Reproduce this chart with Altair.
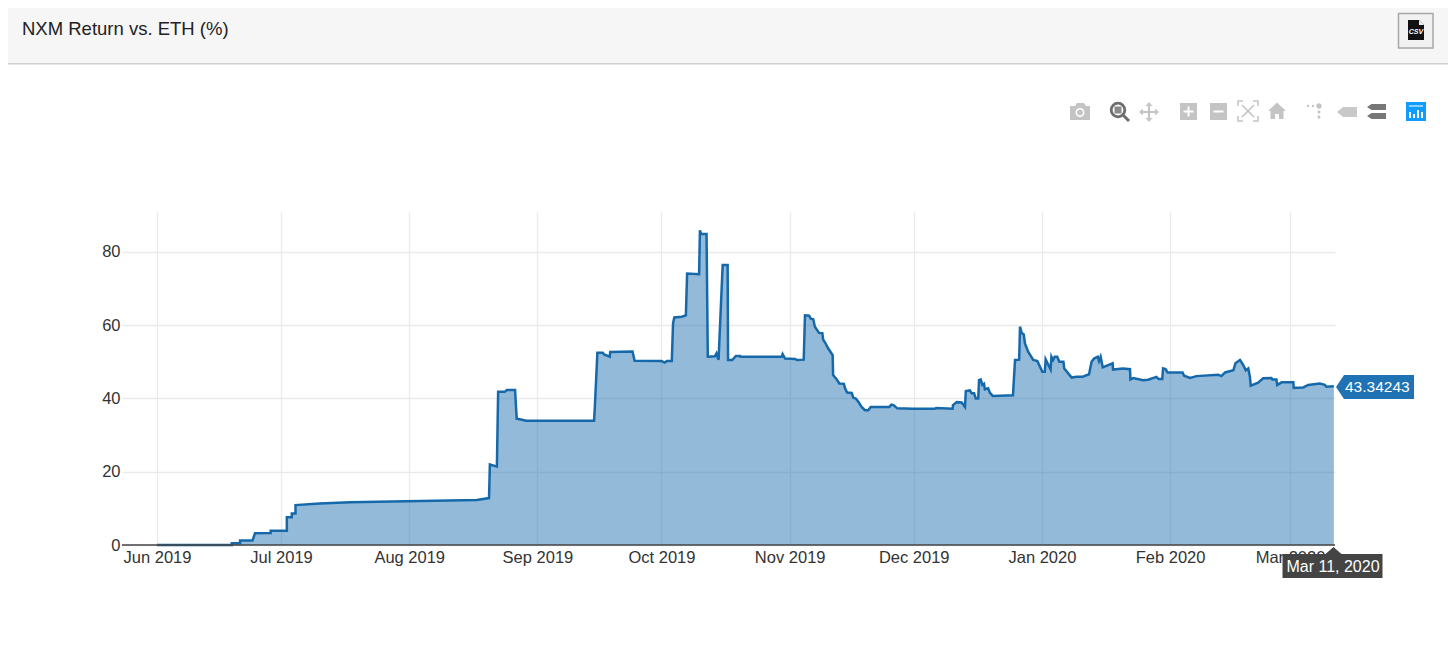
import altair as alt
import pandas as pd

# Days after 1 June 2019, and NXM return vs. ETH (%)
days = [0, 18.1, 18.1, 20.1, 20.1, 23.1, 23.7, 27.5, 27.5, 31.4, 31.4, 32.6, 32.6, 33.5, 33.5, 39.4, 46.7, 77.3, 80.3,
        80.5, 82.2, 82.5, 84.1, 84.6, 86.6, 86.8, 87.0, 88.3, 89.2, 105.7, 105.9, 106.5, 107.8, 108.1, 109.5, 109.6,
        115.0, 115.5, 122.0, 122.8, 123.3, 124.5, 124.8, 125.1, 126.9, 127.9, 128.2, 131.1, 131.3, 131.6, 132.9, 133.2,
        134.9, 135.3, 135.8, 136.8, 138.0, 138.1, 139.1, 140.0, 141.0, 141.1, 151.1, 151.3, 151.9, 154.3, 154.8, 156.4,
        156.7, 157.7, 158.1, 158.7, 159.1, 160.1, 160.9, 161.1, 161.7, 162.3, 163.4, 163.5, 164.4, 165.0, 166.1, 166.4,
        166.9, 168.0, 168.4, 169.0, 169.6, 170.4, 171.2, 172.0, 172.6, 177.1, 177.6, 178.2, 179.0, 182.8, 188.1, 188.4,
        192.4, 192.5, 193.4, 194.6, 195.4, 195.6, 196.6, 197.0, 197.6, 198.0, 198.6, 198.8, 199.2, 199.6, 200.0, 200.2,
        201.0, 201.4, 202.1, 207.0, 207.5, 208.5, 208.7, 209.1, 209.6, 209.9, 210.7, 211.9, 212.9, 214.1, 214.7, 214.9,
        216.1, 216.3, 216.7, 217.1, 217.7, 218.2, 219.2, 219.4, 221.2, 222.4, 223.8, 225.4, 226.0, 226.6, 227.5, 227.8,
        228.2, 228.7, 231.1, 231.2, 233.6, 235.3, 235.4, 236.1, 238.5, 239.7, 241.7, 242.2, 243.1, 243.3, 243.9, 244.4,
        248.0, 248.4, 249.8, 251.4, 256.6, 257.4, 258.3, 260.3, 260.8, 261.9, 262.7, 263.3, 263.9, 264.3, 264.5, 266.3,
        267.5, 269.5, 269.7, 270.7, 270.9, 272.0, 274.8, 274.9, 277.2, 278.4, 281.2, 282.4, 282.8, 284.6]
values = [0, 0, 0.5, 0.5, 1.2, 1.2, 3.2, 3.3, 3.9, 3.9, 7.6, 7.6, 8.6, 8.6, 10.9, 11.3, 11.7, 12.3, 12.8,
          22.0, 21.4, 41.8, 41.8, 42.3, 42.3, 38.0, 34.5, 34.2, 33.9, 33.9, 38.0, 52.5, 52.5, 52.0, 51.4, 52.7,
          52.8, 50.3, 50.2, 49.8, 50.2, 50.2, 60.5, 62.1, 62.3, 62.7, 74.1, 73.9, 85.9, 84.9, 84.9, 51.4,
          51.5, 52.3, 50.5, 76.4, 76.4, 50.5, 50.5, 51.6, 51.6, 51.4, 51.4, 52.1, 50.9, 50.8, 50.5, 50.6,
          62.7, 62.6, 61.8, 61.6, 59.6, 57.9, 57.8, 56.1, 55.0, 53.7, 51.8, 46.4, 45.2, 44.1, 44.0, 42.8,
          41.6, 41.5, 40.2, 40.0, 39.1, 37.7, 36.8, 36.8, 37.7, 37.7, 38.3, 38.1, 37.3, 37.2, 37.2, 37.4,
          37.2, 38.2, 39.0, 38.9, 37.7, 42.0, 42.2, 41.4, 41.4, 40.0, 40.0, 45.0, 45.2, 43.7, 44.0, 42.5,
          42.8, 41.6, 40.7, 40.9, 50.5, 50.6, 59.6, 57.9, 57.5, 55.0, 52.7, 50.5, 50.2, 47.3, 47.3, 50.7,
          47.9, 51.4, 50.5, 51.4, 51.4, 50.0, 50.0, 48.2, 45.7, 45.9, 45.9, 46.6, 50.0, 50.9, 51.4, 50.2,
          51.4, 48.5, 49.6, 47.9, 48.2, 48.0, 45.2, 45.6, 45.0, 45.1, 45.9, 45.3, 45.3, 48.2, 48.0, 47.1,
          47.1, 46.2, 45.6, 46.1, 46.5, 46.1, 47.1, 47.7, 49.6, 50.5, 49.1, 47.7, 48.2, 45.9, 43.5, 44.3,
          45.5, 45.6, 45.2, 45.2, 43.7, 44.4, 44.4, 42.9, 43.0, 43.7, 44.1, 43.7, 43.2, 43.34243]
y_ticks = [0, 20, 40, 60, 80]
title_text = "NXM Return vs. ETH (%)"
value_tag = "43.34243"
date_tag = "Mar 11, 2020"

df = pd.DataFrame({
    "date": (pd.Timestamp("2019-06-01") + pd.to_timedelta(days, unit="D")).strftime("%Y-%m-%dT%H:%M:%S"),
    "ret": values,
})

FONT = "Liberation Sans"
LEFT, TOP, W, H = 122, 212, 1213, 333   # plot area on the page
PAGE = 8
ONE = alt.Data(values=[{"a": 1}])


def px(x):
    return x - LEFT


def py(y):
    return y - TOP


def shape(cx, cy, path, fill=None, stroke=None, sw=1.0):
    kw = dict(shape=path, size=4, opacity=1, clip=False)
    if fill:
        kw.update(filled=True, fill=fill, strokeWidth=0)
    else:
        kw.update(filled=False, stroke=stroke, strokeWidth=sw, fillOpacity=0)
    return alt.Chart(ONE).mark_point(**kw).encode(x=alt.value(px(cx)), y=alt.value(py(cy)))


def label(x, y, text, size, color, align="left", font=FONT, **kw):
    return alt.Chart(ONE).mark_text(text=text, fontSize=size, color=color, align=align, baseline="middle",
                                    font=font, **kw).encode(x=alt.value(px(x)), y=alt.value(py(y)))


def box(x0, y0, x1, y1, fill, **kw):
    return alt.Chart(ONE).mark_rect(fill=fill, opacity=1, **kw).encode(
        x=alt.value(px(x0)), x2=alt.value(px(x1)), y=alt.value(py(y0)), y2=alt.value(py(y1)))


def ring(r):
    return f"M{-r},0 A{r},{r} 0 1 0 {r},0 A{r},{r} 0 1 0 {-r},0 Z"


x_scale = alt.Scale(domain=["2019-05-23T13:00:00", "2020-03-11T21:00:00"], nice=False)
y_scale = alt.Scale(domain=[0, 90.9], nice=False, zero=False)

x_enc = alt.X("date:T", scale=x_scale, title=None,
              axis=alt.Axis(format="%b %Y", tickCount={"interval": "month", "step": 1}, grid=True, gridColor="#eaeaea",
                            gridWidth=1.3, domain=False, ticks=False, labelFont=FONT, labelFontSize=16.5,
                            labelColor="#333333", labelPadding=4, labelAngle=0, labelBaseline="top",
                            labelAlign="center", labelOverlap=False, labelFlush=False))
y_enc = alt.Y("ret:Q", scale=y_scale, stack=None, title=None,
              axis=alt.Axis(values=y_ticks, grid=True, gridColor="#eaeaea", gridWidth=1.3, domain=False, ticks=False,
                            labelFont=FONT, labelFontSize=16.5, labelColor="#333333", labelPadding=2))

area = alt.Chart(df).mark_area(color="#1f6fb0", opacity=0.48, interpolate="linear").encode(x=x_enc, y=y_enc)
line = alt.Chart(df).mark_line(color="#1569aa", strokeWidth=2.5, interpolate="linear").encode(x="date:T", y="ret:Q")
zero = box(LEFT, 544.2, LEFT + W, 545.8, "#444444")

G1, G2 = "#c4c4c4", "#6e6e6e"
chrome = [
    # header band and button
    box(0, 0, 1456, 63, "#f6f6f6"),
    box(0, 63, 1456, 64.5, "#cfcfcf"),
    label(22, 28.5, title_text, 18.5, "#222222"),
    box(1398.5, 13.5, 1433, 48, "#f1f1f1", stroke="#a8a8a8", strokeWidth=1.5),
    shape(1416, 30, "M-8,-10 L3,-10 L8,-5 L8,10 L-8,10 Z", fill="#111111"),
    shape(1416, 30, "M3,-10 L8,-5 L3,-5 Z", fill="#f1f1f1"),
    label(1416, 32, "CSV", 7, "#ffffff", align="center", fontWeight="bold", fontStyle="italic"),
    # camera
    shape(1080, 112, "M-10,-6 L-5,-6 L-3,-9 L4,-9 L6,-6 L10,-6 L10,8 L-10,8 Z", fill=G1),
    shape(1080, 112.5, ring(4.5), fill="#ffffff"),
    shape(1080, 112.5, ring(3), fill=G1),
    # zoom
    shape(1118, 110, ring(6.8), stroke=G2, sw=2.8),
    shape(1118, 110, "M-3.5,-3.5 L3.5,-3.5 L3.5,3.5 L-3.5,3.5 Z", fill="#8a8a8a"),
    shape(1118, 110, "M5,5 L11,11", stroke=G2, sw=3),
    # pan
    shape(1149, 112, "M-8,0 L8,0 M0,-8 L0,8", stroke=G1, sw=2.2),
    shape(1149, 112, "M-10,0 L-6,-3.5 L-6,3.5 Z M10,0 L6,-3.5 L6,3.5 Z M0,-10 L-3.5,-6 L3.5,-6 Z M0,10 L-3.5,6 L3.5,6 Z",
          fill=G1),
    # zoom in / out
    box(1180, 103, 1197, 120, G1),
    box(1183.5, 110.5, 1193.5, 112.5, "#ffffff"),
    box(1187.5, 106.5, 1189.5, 116.5, "#ffffff"),
    box(1210, 103, 1227, 120, G1),
    box(1213.5, 110.5, 1223.5, 112.5, "#ffffff"),
    # autoscale
    shape(1248, 111, "M-10,-5 L-10,-10 L-5,-10 M5,-10 L10,-10 L10,-5 M10,5 L10,10 L5,10 M-5,10 L-10,10 L-10,5",
          stroke=G1, sw=1.5),
    shape(1248, 111, "M-6,-6 L6,6 M6,-6 L-6,6", stroke=G1, sw=1.6),
    # home
    shape(1277, 111, "M0,-8.5 L9,0 L6.5,0 L6.5,8 L2,8 L2,3 L-2,3 L-2,8 L-6.5,8 L-6.5,0 L-9,0 Z", fill=G1),
    # spike lines
    shape(1308, 106, ring(1.2), fill=G1),
    shape(1313, 106, ring(1.2), fill=G1),
    shape(1319, 106, ring(2.7), fill=G1),
    shape(1319, 112, ring(1.5), fill=G1),
    shape(1319, 117, ring(1.5), fill=G1),
    # hover closest / compare
    shape(1347, 112, "M-10,0 L-4,-5 L10,-5 L10,5 L-4,5 Z", fill="#c8c8c8"),
    shape(1376.5, 107, "M-9.5,0 L-5,-3 L9.5,-3 L9.5,3 L-5,3 Z", fill="#777777"),
    shape(1376.5, 116, "M-9.5,0 L-5,-3 L9.5,-3 L9.5,3 L-5,3 Z", fill="#777777"),
    # logo button
    box(1406, 102, 1426, 121, "#119dff"),
    box(1409, 112, 1411, 118, "#ffffff"),
    box(1413, 114, 1415, 118, "#ffffff"),
    box(1417, 110, 1419, 118, "#ffffff"),
    box(1421, 112, 1423, 118, "#ffffff"),
    box(1409, 105, 1423, 107, "#8fd0ff"),
]

tags = [
    shape(1378, 387, "M-42,0 L-34,-12 L36,-12 L36,12 L-34,12 Z", fill="#1f72b4"),
    label(1345, 387, value_tag, 15.5, "#ffffff"),
    shape(1332.5, 566, "M-50,-12 L-7,-12 L1,-19 L9,-12 L50,-12 L50,12 L-50,12 Z", fill="#444444"),
    label(1333, 566.5, date_tag, 16, "#ffffff", align="center"),
]

chart = alt.layer(area, line, zero, *chrome, *tags).properties(
    width=W,
    height=H,
    padding={"left": LEFT - PAGE, "top": TOP - PAGE, "right": 1448 - LEFT - W, "bottom": 650 + PAGE - TOP - H},
    autosize=alt.AutoSizeParams(type="none"),
    background="#ffffff",
).configure_view(stroke=None)

chart.save("out.html", embed_options={"renderer": "svg", "actions": False})
